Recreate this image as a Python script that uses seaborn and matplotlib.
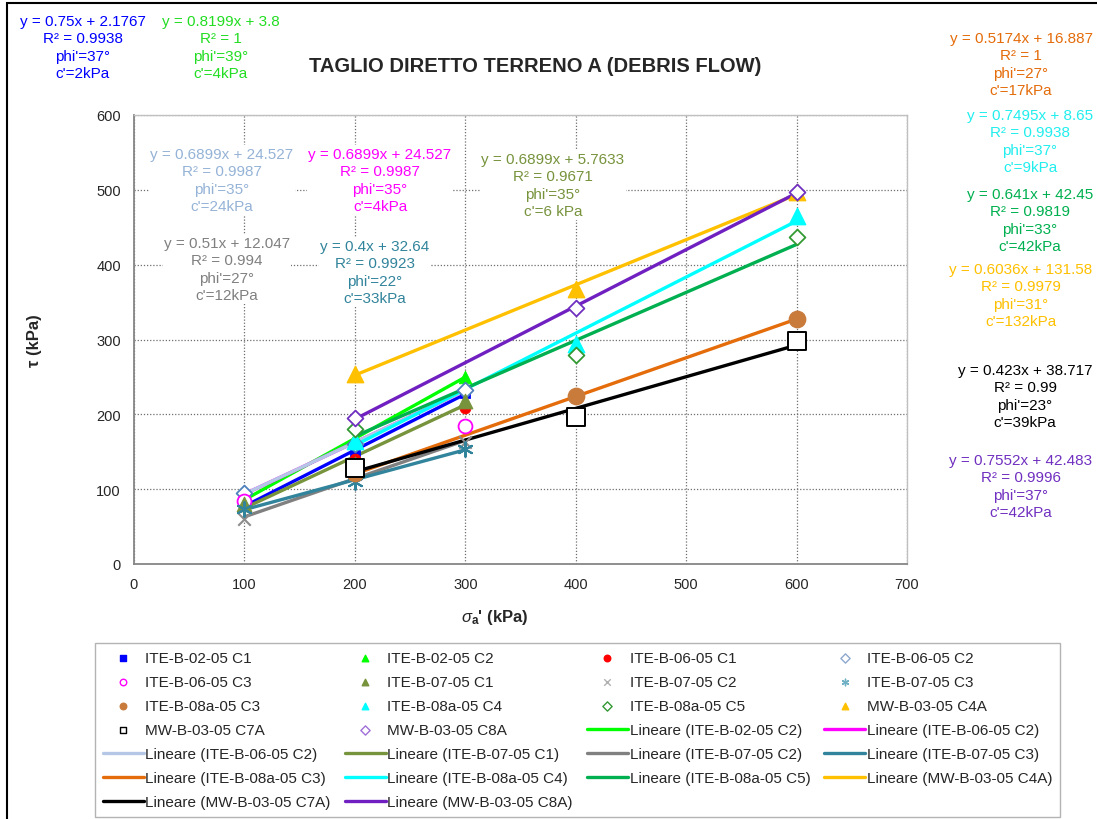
import matplotlib
matplotlib.use("Agg")
import matplotlib.pyplot as plt
from matplotlib.patches import Rectangle
from matplotlib.collections import PathCollection
import seaborn as sns
import numpy as np

# ---------------- data ----------------
x_100_300 = [100, 200, 300]
x_100_300_b = [100, 300]
x_200_600 = [200, 400, 600]

tau_ite_b_02_05_c1 = [78, 151, 228]
tau_ite_b_02_05_c2 = [86, 168, 250]
tau_ite_b_06_05_c1 = [82, 140, 208]
tau_ite_b_06_05_c2 = [95, 160, 232]
tau_ite_b_06_05_c3 = [84, 185]
tau_ite_b_07_05_c1 = [80, 133, 218]
tau_ite_b_07_05_c2 = [60, 120, 163]
tau_ite_b_07_05_c3 = [74, 110, 154]
tau_ite_b_08a_05_c3 = [121, 224, 327]
tau_ite_b_08a_05_c4 = [165, 294, 465]
tau_ite_b_08a_05_c5 = [180, 279, 437]
tau_mw_b_03_05_c4a = [254, 368, 497]
tau_mw_b_03_05_c7a = [128, 197, 298]
tau_mw_b_03_05_c8a = [195, 342, 497]

series_names = ["ITE-B-02-05 C1", "ITE-B-02-05 C2", "ITE-B-06-05 C1", "ITE-B-06-05 C2",
                "ITE-B-06-05 C3", "ITE-B-07-05 C1", "ITE-B-07-05 C2", "ITE-B-07-05 C3",
                "ITE-B-08a-05 C3", "ITE-B-08a-05 C4", "ITE-B-08a-05 C5", "MW-B-03-05 C4A",
                "MW-B-03-05 C7A", "MW-B-03-05 C8A"]
series_x = [x_100_300, x_100_300, x_100_300, x_100_300, x_100_300_b, x_100_300,
            x_100_300, x_100_300, x_200_600, x_200_600, x_200_600, x_200_600,
            x_200_600, x_200_600]
series_y = [tau_ite_b_02_05_c1, tau_ite_b_02_05_c2, tau_ite_b_06_05_c1, tau_ite_b_06_05_c2,
            tau_ite_b_06_05_c3, tau_ite_b_07_05_c1, tau_ite_b_07_05_c2, tau_ite_b_07_05_c3,
            tau_ite_b_08a_05_c3, tau_ite_b_08a_05_c4, tau_ite_b_08a_05_c5, tau_mw_b_03_05_c4a,
            tau_mw_b_03_05_c7a, tau_mw_b_03_05_c8a]

# trend lines (Lineare) : which series range, slope, intercept
trend_labels = [None, "Lineare (ITE-B-02-05 C2)", "Lineare (ITE-B-06-05 C2)",
                "Lineare (ITE-B-06-05 C2)", "Lineare (ITE-B-07-05 C1)",
                "Lineare (ITE-B-07-05 C2)", "Lineare (ITE-B-07-05 C3)",
                "Lineare (ITE-B-08a-05 C3)", "Lineare (ITE-B-08a-05 C4)",
                "Lineare (ITE-B-08a-05 C5)", "Lineare (MW-B-03-05 C4A)",
                "Lineare (MW-B-03-05 C7A)", "Lineare (MW-B-03-05 C8A)"]
trend_series = [0, 1, 3, 3, 5, 6, 7, 8, 9, 10, 11, 12, 13]
trend_slope = ["0.75", "0.8199", "0.6899", "0.6899", "0.6899", "0.51", "0.4",
               "0.5174", "0.7495", "0.641", "0.6036", "0.423", "0.7552"]
trend_intercept = ["2.1767", "3.8", "24.527", "24.527", "5.7633", "12.047", "32.64",
                   "16.887", "8.65", "42.45", "131.58", "38.717", "42.483"]
trend_r2 = ["0.9938", "1", "0.9987", "0.9987", "0.9671", "0.994", "0.9923",
            "1", "0.9938", "0.9819", "0.9979", "0.99", "0.9996"]
trend_phi = ["37", "39", "35", "35", "35", "27", "22", "27", "37", "33", "31", "23", "37"]
trend_c = ["2kPa", "4kPa", "4kPa", "24kPa", "6 kPa", "12kPa", "33kPa", "17kPa", "9kPa",
           "42kPa", "132kPa", "39kPa", "42kPa"]

title = "TAGLIO DIRETTO TERRENO A (DEBRIS FLOW)"

# ---------------- styles ----------------
marker_styles = [
    dict(marker="s", s=50, color="#0000ff", edgecolor="#0000ff"),
    dict(marker="^", s=80, color="#00ff00", edgecolor="#00ff00"),
    dict(marker="o", s=60, color="#ff0000", edgecolor="#ff0000"),
    dict(marker="D", s=65, facecolor="white", edgecolor="#4f81bd", linewidth=1.3),
    dict(marker="o", s=100, facecolor="white", edgecolor="#ff00ff", linewidth=1.3),
    dict(marker="^", s=110, color="#77933c", edgecolor="#77933c"),
    dict(marker="x", s=80, color="#8c8c8c", linewidth=1.5),
    dict(marker=(6, 2, 0), s=110, color="#31849b", linewidth=1.5),
    dict(marker="o", s=140, color="#c97b3c", edgecolor="#c97b3c"),
    dict(marker="^", s=140, color="#00ffff", edgecolor="#00ffff"),
    dict(marker="D", s=65, facecolor="white", edgecolor="#339933", linewidth=1.3),
    dict(marker="^", s=140, color="#ffc000", edgecolor="#ffc000"),
    dict(marker="s", s=150, facecolor="white", edgecolor="black", linewidth=1.4),
    dict(marker="D", s=65, facecolor="white", edgecolor="#7030c0", linewidth=1.3),
]
legend_marker_colors = [None, None, None, "#8ea9cf", None, None, "#b0b0b0", "#6fb0c4",
                        None, None, None, None, None, "#a070d8"]
trend_colors = ["#0000ff", "#00ff00", "#ff00ff", "#b4c7e7", "#77933c", "#808080", "#31849b",
                "#e46c0a", "#00ffff", "#00b050", "#ffc000", "#000000", "#7020c0"]
text_colors = ["#0000ff", "#22dd22", "#ff00ff", "#95b3d7", "#77933c", "#808080", "#31849b",
               "#e46c0a", "#22eeee", "#00b050", "#ffc000", "#000000", "#7030c0"]
# annotation block centres in pixels (x, y from top)
text_pos = [(83, 48), (221, 48), (380, 181), (222, 181), (553, 186), (227, 270), (375, 273),
            (1021, 65), (1030, 142), (1030, 221), (1021, 296), (1025, 397), (1021, 487)]

W, H = 1097, 820
sns.set_style("white")
plt.rcParams["font.family"] = ["Liberation Sans", "DejaVu Sans"]
plt.rcParams["mathtext.fontset"] = "custom"
plt.rcParams["mathtext.rm"] = "Liberation Sans"
plt.rcParams["mathtext.it"] = "Liberation Sans:italic"
plt.rcParams["mathtext.bf"] = "Liberation Sans:bold"

fig = plt.figure(figsize=(W / 100, H / 100), dpi=100)
fig.patch.set_facecolor("white")
ax = fig.add_axes([134 / W, 1 - 565 / H, (907 - 134) / W, (565 - 116) / H])

# trend lines
for i, s_idx in enumerate(trend_series):
    xs = np.array([min(series_x[s_idx]), max(series_x[s_idx])], dtype=float)
    ys = float(trend_slope[i]) * xs + float(trend_intercept[i])
    sns.lineplot(x=xs, y=ys, ax=ax, color=trend_colors[i], linewidth=2.4,
                 label=trend_labels[i], sort=False, errorbar=None, zorder=3)

# markers
for name, xs, ys, st in zip(series_names, series_x, series_y, marker_styles):
    sns.scatterplot(x=xs, y=ys, ax=ax, label=name, zorder=4, **st)

ax.set_xlim(0, 700)
ax.set_ylim(0, 600)
ax.set_xticks(np.arange(0, 701, 100))
ax.set_yticks(np.arange(0, 601, 100))
ax.grid(True, color="#6f6f6f", linestyle=(0, (1, 1.5)), linewidth=0.9)
ax.set_axisbelow(True)
ax.tick_params(axis="both", labelsize=10.5, direction="inout", length=7, width=1,
               color="#808080", pad=6)
for sp in ["left", "bottom"]:
    ax.spines[sp].set_color("#868686")
    ax.spines[sp].set_linewidth(1.3)
for sp in ["top", "right"]:
    ax.spines[sp].set_color("#c0c0c0")
    ax.spines[sp].set_linewidth(1.0)

ax.set_xlabel(r"$\sigma_\mathbf{a}$' (kPa)", fontsize=12, fontweight="bold")
ax.set_ylabel("τ (kPa)", fontsize=12, fontweight="bold")
ax.xaxis.set_label_coords((495 - 134) / 773, (565 - 608) / 449)
ax.yaxis.set_label_coords((42 - 134) / 773, 0.5)

fig.text(535 / W, 1 - 66 / H, title, ha="center", va="center", fontsize=14.5,
         fontweight="bold")

# annotations
for i in range(len(trend_slope)):
    txt = (f"y = {trend_slope[i]}x + {trend_intercept[i]}\nR² = {trend_r2[i]}\n"
           f"phi'={trend_phi[i]}°\nc'={trend_c[i]}")
    px, py = text_pos[i]
    fig.text(px / W, 1 - py / H, txt, ha="center", va="center", multialignment="center",
             fontsize=11, color=text_colors[i], linespacing=1.32,
             bbox=dict(facecolor="white", edgecolor="none", pad=1))

# legend in row-major order, 4 columns
handles, labels = ax.get_legend_handles_labels()
n_lines = len(trend_series) - 1
lines_h, lines_l = handles[:n_lines], labels[:n_lines]
mark_h, mark_l = handles[n_lines:], labels[n_lines:]
all_h = mark_h + lines_h
all_l = mark_l + lines_l
ncol = 4
order = []
for c in range(ncol):
    order += list(range(c, len(all_h), ncol))
leg = ax.legend([all_h[k] for k in order], [all_l[k] for k in order], ncol=ncol,
                loc="center", bbox_to_anchor=(95 / W, 1 - 817 / H, (1060 - 95) / W, (817 - 645) / H),
                bbox_transform=fig.transFigure, mode="expand", fontsize=11,
                frameon=True, fancybox=False, edgecolor="#a0a0a0",
                handlelength=2.7, handletextpad=0.1, columnspacing=0.4, labelspacing=0.66,
                borderpad=0.5, borderaxespad=0)
leg.get_frame().set_linewidth(1.0)
# uniform small markers in legend
name_to_idx = {n: i for i, n in enumerate(series_names)}
for h, t in zip(leg.legend_handles, leg.get_texts()):
    if isinstance(h, PathCollection):
        h.set_sizes([22])
        idx = name_to_idx.get(t.get_text())
        if idx is not None and legend_marker_colors[idx] is not None:
            col = legend_marker_colors[idx]
            if marker_styles[idx].get("facecolor") == "white":
                h.set_edgecolor(col)
            else:
                h.set_color(col)
        h.set_linewidth(1.0)

# outer chart border
fig.patches.append(Rectangle((7 / W, -0.1), 2, 1.1 - 4 / H, transform=fig.transFigure,
                             fill=False, edgecolor="black", linewidth=1.5))

fig.savefig("out.png", dpi=100)
